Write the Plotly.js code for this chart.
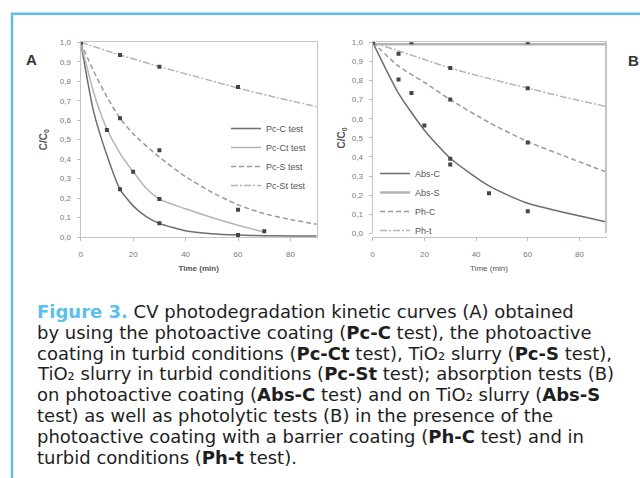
<!DOCTYPE html>
<html><head><meta charset="utf-8">
<script src="https://cdn.plot.ly/plotly-3.0.1.min.js"></script>
<style>html,body{margin:0;padding:0;background:#fff;}#c{width:640px;height:478px;}</style>
</head><body><div id="c"></div>
<script>
// ---- Panel A data ----
const pcC_t = [0,5,10,15,20,25,30,40,50,60,70,80,90];
const pcC_y = [1,0.64,0.42,0.245,0.16,0.105,0.07,0.032,0.017,0.01,0.007,0.005,0.005];
const pcCt_t = [0,5,10,15,20,25,30,40,50,60,70];
const pcCt_y = [1,0.74,0.555,0.43,0.335,0.25,0.195,0.145,0.1,0.06,0.025];
const pcS_t = [0,5,10,15,20,30,40,50,60,70,80,90];
const pcS_y = [1,0.85,0.72,0.61,0.53,0.41,0.31,0.23,0.165,0.12,0.09,0.065];
const pcSt_t = [0,15,30,45,60,75,90];
const pcSt_y = [1,0.935,0.875,0.82,0.765,0.715,0.67];
const mPcC_t = [0,15,30,60], mPcC_y = [1,0.245,0.07,0.01];
const mPcCt_t = [0,10,20,30,70], mPcCt_y = [1,0.55,0.335,0.195,0.03];
const mPcS_t = [0,15,30,60], mPcS_y = [1,0.61,0.445,0.14];
const mPcSt_t = [0,15,30,60], mPcSt_y = [1,0.935,0.875,0.77];
// ---- Panel B data ----
const absC_t = [0,10,20,30,45,60,90];
const absC_y = [1,0.733,0.54,0.393,0.248,0.157,0.061];
const absS_t = [0,90];
const absS_y = [0.99,0.99];
const phC_t = [0,10,20,30,45,60,75,90];
const phC_y = [1,0.875,0.79,0.70,0.58,0.48,0.40,0.323];
const pht_t = [0,10,20,30,45,60,75,90];
const pht_y = [1,0.955,0.91,0.865,0.81,0.76,0.71,0.665];
const mAbsC_t = [0,10,15,20,30,30,45,60], mAbsC_y = [1,0.805,0.735,0.565,0.39,0.36,0.21,0.115];
const mAbsS_t = [0,15,60], mAbsS_y = [1,1,1];
const mPhC_t = [0,30,60], mPhC_y = [1,0.70,0.475];
const mPht_t = [0,10,30,60], mPht_y = [1,0.94,0.865,0.76];
// ---- ticks ----
const yTickVals = [0,0.1,0.2,0.3,0.4,0.5,0.6,0.7,0.8,0.9,1.0];
const yTickText = ["0,0","0,1","0,2","0,3","0,4","0,5","0,6","0,7","0,8","0,9","1,0"];
const xTickVals = [0,20,40,60,80];
// ---- caption ----
const captionLines = [
 '<span style="color:#5bc0eb"><b>Figure 3.</b></span> CV photodegradation kinetic curves (A) obtained',
 'by using the photoactive coating (<b>Pc-C</b> test), the photoactive',
 'coating in turbid conditions (<b>Pc-Ct</b> test), TiO₂ slurry (<b>Pc-S</b> test),',
 'TiO₂ slurry in turbid conditions (<b>Pc-St</b> test); absorption tests (B)',
 'on photoactive coating (<b>Abs-C</b> test) and on TiO₂ slurry (<b>Abs-S</b>',
 'test) as well as photolytic tests (B) in the presence of the',
 'photoactive coating with a barrier coating (<b>Ph-C</b> test) and in',
 'turbid conditions (<b>Ph-t</b> test).'
];

const W=640,H=478;
const px=x=>x/W, py=y=>1-y/H;
const dark='#6e6e6e', light='#b4b4b4', mid='#9a9a9a';
const mk={symbol:'square',size:4,color:'#444'};
function line(x,y,name,color,dash,xa,ya,lg,w){return {x,y,name,type:'scatter',mode:'lines',line:{color,dash,width:w||1.5,shape:'spline',smoothing:0.6},xaxis:xa,yaxis:ya,legend:lg,showlegend:true};}
function pts(x,y,xa,ya){return {x,y,type:'scatter',mode:'markers',marker:mk,xaxis:xa,yaxis:ya,showlegend:false,hoverinfo:'skip'};}
const dd='7px,2px,2px,2px';
const data=[
 line(pcC_t,pcC_y,'Pc-C test',dark,'solid','x','y','legend'),
 line(pcCt_t,pcCt_y,'Pc-Ct test',light,'solid','x','y','legend'),
 line(pcS_t,pcS_y,'Pc-S test',mid,'5px,3px','x','y','legend'),
 line(pcSt_t,pcSt_y,'Pc-St test',light,dd,'x','y','legend'),
 pts(mPcC_t,mPcC_y,'x','y'),pts(mPcCt_t,mPcCt_y,'x','y'),pts(mPcS_t,mPcS_y,'x','y'),pts(mPcSt_t,mPcSt_y,'x','y'),
 line(absC_t,absC_y,'Abs-C',dark,'solid','x2','y2','legend2'),
 line(absS_t,absS_y,'Abs-S',light,'solid','x2','y2','legend2',2.5),
 line(phC_t,phC_y,'Ph-C',mid,'5px,3px','x2','y2','legend2'),
 line(pht_t,pht_y,'Ph-t',light,dd,'x2','y2','legend2'),
 pts(mAbsC_t,mAbsC_y,'x2','y2'),pts(mAbsS_t,mAbsS_y,'x2','y2'),pts(mPhC_t,mPhC_y,'x2','y2'),pts(mPht_t,mPht_y,'x2','y2')
];
const tf={family:'Liberation Sans, Arial',size:8,color:'#777'};
function xax(dom,bold){return {domain:dom,range:[0,90],tickvals:xTickVals,ticks:'outside',ticklen:3,tickcolor:'#bbb',
 showline:true,linecolor:'#c4c4c4',linewidth:1.2,mirror:true,showgrid:false,zeroline:false,tickfont:tf,ticklabelstandoff:6,
 title:{text:bold?'<b>Time (min)</b>':'Time (min)',font:{family:'Liberation Sans, Arial',size:8,color:'#555'},standoff:7}};}
function yax(dom,xa,so){return {domain:dom,range:[0,1],tickvals:yTickVals,ticktext:yTickText,ticks:'outside',ticklen:3,tickcolor:'#bbb',
 showline:true,linecolor:'#c4c4c4',linewidth:1.2,mirror:true,showgrid:false,zeroline:false,tickfont:tf,ticklabelstandoff:4,anchor:xa,
 title:{text:'<b>C/C<sub>0</sub></b>',font:{family:'Liberation Sans, Arial',size:10,color:'#555'},standoff:so}};}
const ann=[
 {xref:'paper',yref:'paper',x:px(31),y:py(59),xanchor:'center',yanchor:'middle',text:'<b>A</b>',showarrow:false,font:{family:'Liberation Sans, Arial',size:15,color:'#333'}},
 {xref:'paper',yref:'paper',x:px(633),y:py(60),xanchor:'center',yanchor:'middle',text:'<b>B</b>',showarrow:false,font:{family:'Liberation Sans, Arial',size:15,color:'#333'}}
];
captionLines.forEach((t,i)=>ann.push({xref:'paper',yref:'paper',x:px(35),y:py(311.5+20.8*i),xanchor:'left',yanchor:'middle',text:t,showarrow:false,
 font:{family:'DejaVu Sans',size:18,color:'#1e1e1e'}}));
const layout={width:W,height:H,margin:{l:0,r:0,t:0,b:0},paper_bgcolor:'#fff',plot_bgcolor:'#fff',
 xaxis:xax([px(80.7),px(316.7)],true),yaxis:yax([py(237),py(42.3)],'x',10),
 xaxis2:xax([px(372.7),px(605.3)],false),yaxis2:yax([py(233.3),py(42.3)],'x2',4),
 legend:{x:px(226),y:py(114),xanchor:'left',yanchor:'top',bgcolor:'rgba(0,0,0,0)',font:{family:'Liberation Sans, Arial',size:9,color:'#555'},itemwidth:30,tracegroupgap:0},
 legend2:{x:px(375),y:py(159),xanchor:'left',yanchor:'top',bgcolor:'rgba(0,0,0,0)',font:{family:'Liberation Sans, Arial',size:9,color:'#555'},itemwidth:30,tracegroupgap:0},
 annotations:ann,
 shapes:[{type:'path',xref:'paper',yref:'paper',path:`M ${px(12)} 0 L ${px(12)} ${py(13.7)} L 1 ${py(13.7)}`,line:{color:'#5bc0eb',width:2.5}}]
};
Plotly.newPlot('c',data,layout,{staticPlot:true});
</script></body></html>
